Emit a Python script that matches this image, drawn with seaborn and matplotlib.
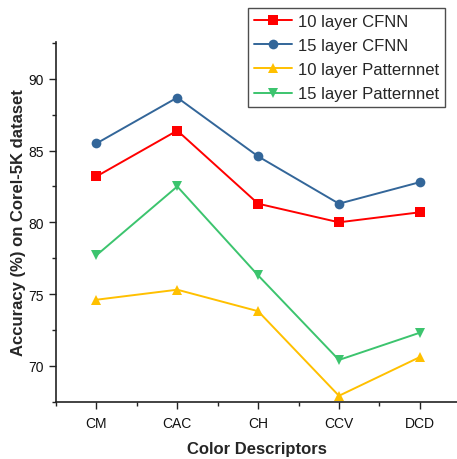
"""Accuracy of colour descriptors on Corel-5K — line chart."""

import matplotlib.pyplot as plt
import pandas as pd
import seaborn as sns
from matplotlib.ticker import MultipleLocator

descriptors = ["CM", "CAC", "CH", "CCV", "DCD"]
series_names = ["10 layer CFNN", "15 layer CFNN", "10 layer Patternnet", "15 layer Patternnet"]
cfnn_10 = [83.2, 86.4, 81.3, 80.0, 80.7]
cfnn_15 = [85.5, 88.7, 84.6, 81.3, 82.8]
pattern_10 = [74.6, 75.3, 73.8, 67.9, 70.6]
pattern_15 = [77.7, 82.5, 76.3, 70.4, 72.3]

COLORS = {
    "10 layer CFNN": "#FF0000",
    "15 layer CFNN": "#336699",
    "10 layer Patternnet": "#FFC000",
    "15 layer Patternnet": "#3CC46E",
}
MARKERS = {
    "10 layer CFNN": "s",
    "15 layer CFNN": "o",
    "10 layer Patternnet": "^",
    "15 layer Patternnet": "v",
}

rows = []
for name, vals in zip(series_names, [cfnn_10, cfnn_15, pattern_10, pattern_15]):
    for d, v in zip(descriptors, vals):
        rows.append({"descriptor": d, "accuracy": v, "series": name})
df = pd.DataFrame(rows)

sns.set_style("ticks")
plt.rcParams["font.family"] = ["Liberation Sans", "DejaVu Sans"]

fig = plt.figure(figsize=(4.57, 4.60), dpi=100)
ax = fig.add_axes([0.1225, 0.124, 0.8775, 0.7826])

sns.lineplot(
    data=df,
    x="descriptor",
    y="accuracy",
    hue="series",
    style="series",
    hue_order=series_names,
    style_order=series_names,
    palette=COLORS,
    markers=MARKERS,
    dashes=False,
    markersize=7,
    markeredgewidth=0,
    linewidth=1.4,
    sort=False,
    ax=ax,
)

ax.set_xlim(-0.5, 4.46)
ax.set_ylim(67.47, 92.58)
ax.yaxis.set_major_locator(MultipleLocator(5))
ax.yaxis.set_minor_locator(MultipleLocator(2.5))
ax.xaxis.set_minor_locator(MultipleLocator(0.5))
ax.tick_params(which="major", direction="out", length=5, width=1, labelsize=10,
               color="#222222", labelcolor="#111111")
ax.tick_params(which="minor", direction="out", length=3, width=1, color="#222222")
ax.tick_params(axis="x", pad=5)
for side in ["top", "right"]:
    ax.spines[side].set_visible(False)
for side in ["left", "bottom"]:
    ax.spines[side].set_linewidth(1.2)
    ax.spines[side].set_color("#222222")

ax.set_xlabel("Color Descriptors", fontsize=12, fontweight="bold", labelpad=8)
ax.set_ylabel("Accuracy (%) on Corel-5K dataset", fontsize=12, fontweight="bold", labelpad=2)

leg = ax.legend(
    loc="upper right",
    bbox_to_anchor=(445 / 457, 1 - 9 / 460),
    bbox_transform=fig.transFigure,
    fontsize=12,
    frameon=True,
    fancybox=False,
    borderpad=0.35,
    labelspacing=0.55,
    handlelength=2.3,
    handletextpad=0.35,
    borderaxespad=0,
)
leg.get_frame().set_edgecolor("#222222")
leg.get_frame().set_linewidth(1.0)

fig.savefig("out.png", dpi=100)
plt.close(fig)
